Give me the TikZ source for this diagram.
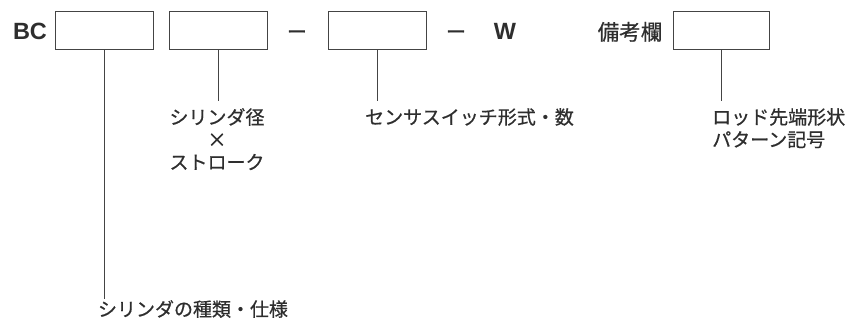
\documentclass[tikz,border=0pt]{standalone}
\usepackage{fontspec}
\newfontfamily\jp[FakeBold=0.6]{Noto Sans CJK JP}
\newfontfamily\hv{Liberation Sans}
\definecolor{ink}{HTML}{2e2e2e}
\definecolor{rule}{HTML}{444444}
\begin{document}
\begin{tikzpicture}[x=1pt,y=1pt,
  codebox/.style={draw=rule,line width=1pt,minimum width=98pt,minimum height=38pt,inner sep=0pt},
  bigtxt/.style={inner sep=0pt,text=ink,font=\hv\bfseries\fontsize{23.5}{28}\selectfont},
  jplabel/.style={inner sep=0pt,text=ink,font=\jp\fontsize{19}{22.5}\selectfont},
  leader/.style={draw=rule,line width=0.9pt}]
\useasboundingbox (0,0) rectangle (847,-320);
\node[bigtxt,anchor=base] (bc) at (30,-39.5) {BC};
\node[codebox] (b1) at (104,-31) {};
\node[codebox] (b2) at (218,-31) {};
\node[jplabel,anchor=base,font=\jp\fontsize{20}{24}\selectfont] (d1) at (297,-39) {ー};
\node[codebox] (b3) at (377,-31) {};
\node[jplabel,anchor=base,font=\jp\fontsize{20}{24}\selectfont] (d2) at (456,-39) {ー};
\node[bigtxt,anchor=base] (w) at (505,-39.5) {W};
\node[jplabel,anchor=base,font=\jp\fontsize{21.5}{25}\selectfont] (biko) at (630,-40) {備考欄};
\node[codebox,minimum width=96pt] (b4) at (721,-31) {};
\node[jplabel,anchor=north,align=center] (l2) at (217,-108) {シリンダ径\\×\\ストローク};
\node[jplabel,anchor=north west] (l3) at (365,-108) {センサスイッチ形式・数};
\node[jplabel,anchor=north west,align=left] (l4) at (712,-108) {ロッド先端形状\\パターン記号};
\node[jplabel,anchor=north] (l1) at (193,-300) {シリンダの種類・仕様};
\draw[leader,shorten >=1pt] (b1.south) -- (b1.south |- l1.north);
\draw[leader,shorten >=7pt] (b2.south) -- (b2.south |- l2.north);
\draw[leader,shorten >=7pt] (b3.south) -- (b3.south |- l3.north);
\draw[leader,shorten >=7pt] (b4.south) -- (b4.south |- l4.north);
\end{tikzpicture}
\end{document}
